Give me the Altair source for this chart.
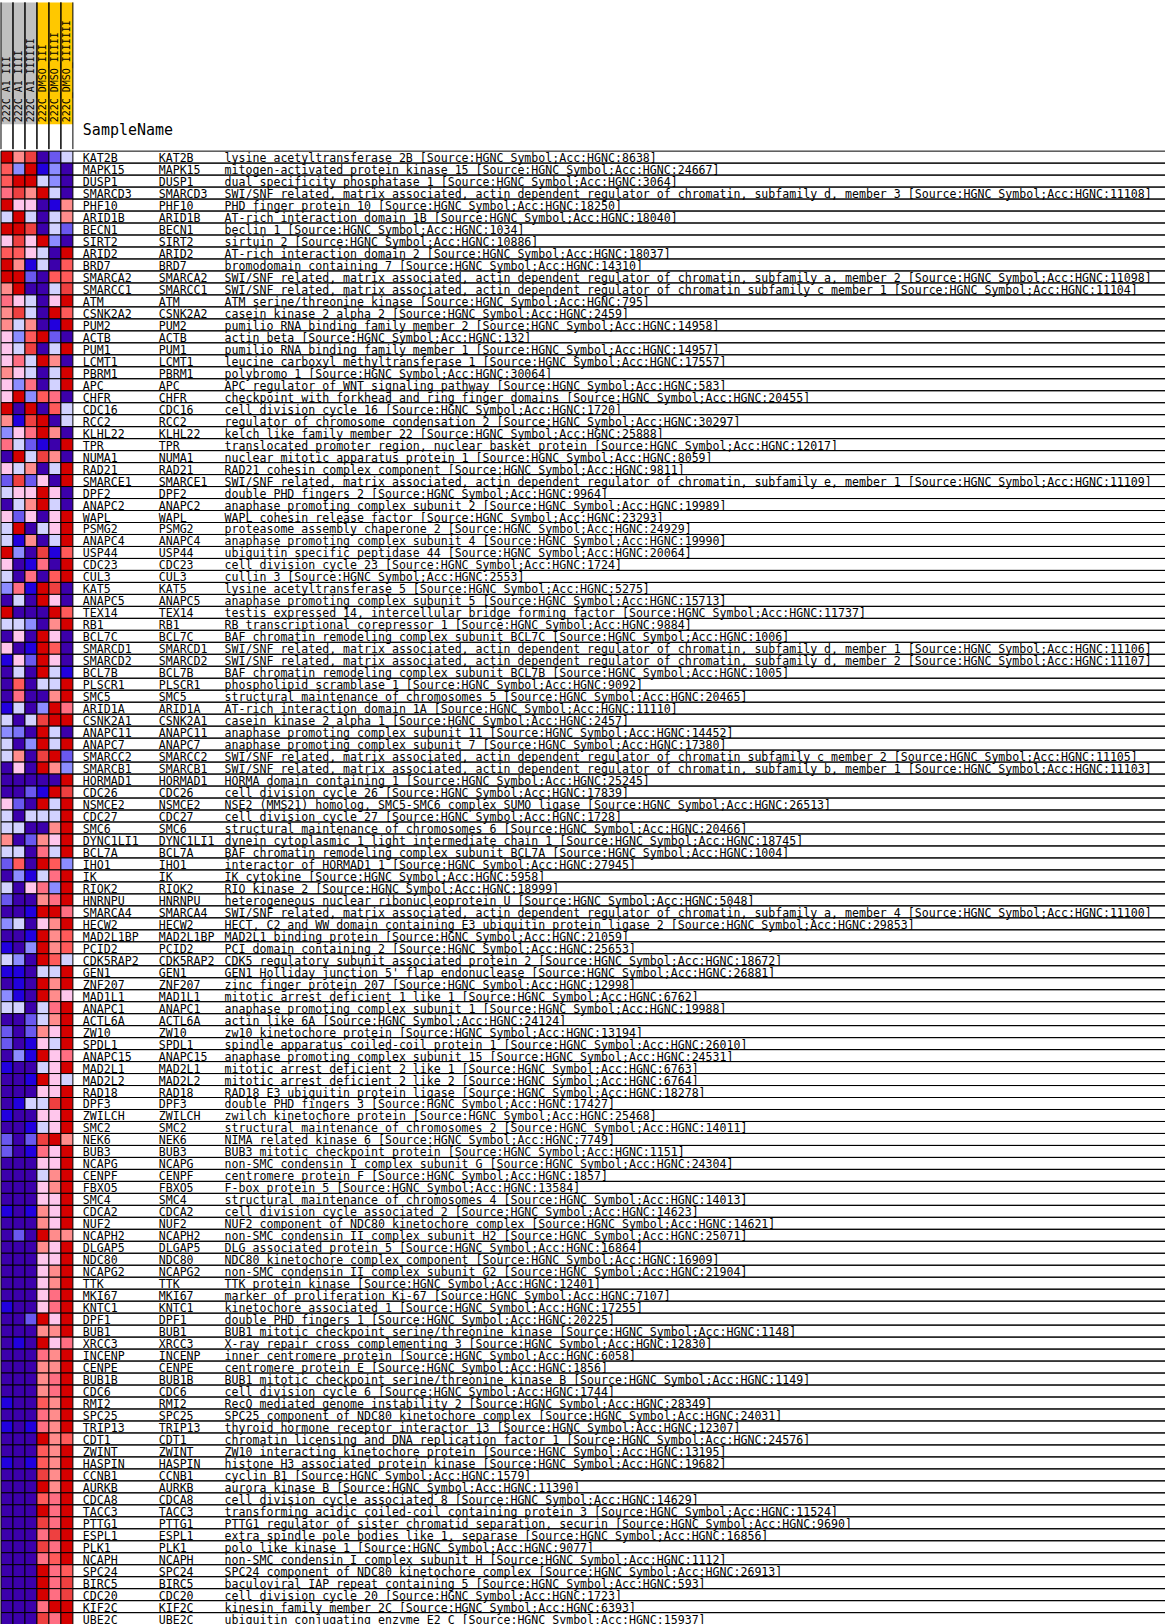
import altair as alt
import pandas as pd

samples = ["222C_A1_III", "222C_A1_IIII", "222C_A1_IIIIII",
           "222C_DMSO_III", "222C_DMSO_IIIII", "222C_DMSO_IIIIIII"]
sample_groups = ["A1", "A1", "A1", "DMSO", "DMSO", "DMSO"]

genes = [
    "KAT2B", "MAPK15", "DUSP1", "SMARCD3", "PHF10", "ARID1B", "BECN1", "SIRT2", "ARID2", "BRD7",
    "SMARCA2", "SMARCC1", "ATM", "CSNK2A2", "PUM2", "ACTB", "PUM1", "LCMT1", "PBRM1", "APC",
    "CHFR", "CDC16", "RCC2", "KLHL22", "TPR", "NUMA1", "RAD21", "SMARCE1", "DPF2", "ANAPC2",
    "WAPL", "PSMG2", "ANAPC4", "USP44", "CDC23", "CUL3", "KAT5", "ANAPC5", "TEX14", "RB1",
    "BCL7C", "SMARCD1", "SMARCD2", "BCL7B", "PLSCR1", "SMC5", "ARID1A", "CSNK2A1", "ANAPC11", "ANAPC7",
    "SMARCC2", "SMARCB1", "HORMAD1", "CDC26", "NSMCE2", "CDC27", "SMC6", "DYNC1LI1", "BCL7A", "IHO1",
    "IK", "RIOK2", "HNRNPU", "SMARCA4", "HECW2", "MAD2L1BP", "PCID2", "CDK5RAP2", "GEN1", "ZNF207",
    "MAD1L1", "ANAPC1", "ACTL6A", "ZW10", "SPDL1", "ANAPC15", "MAD2L1", "MAD2L2", "RAD18", "DPF3",
    "ZWILCH", "SMC2", "NEK6", "BUB3", "NCAPG", "CENPF", "FBXO5", "SMC4", "CDCA2", "NUF2",
    "NCAPH2", "DLGAP5", "NDC80", "NCAPG2", "TTK", "MKI67", "KNTC1", "DPF1", "BUB1", "XRCC3",
    "INCENP", "CENPE", "BUB1B", "CDC6", "RMI2", "SPC25", "TRIP13", "CDT1", "ZWINT", "HASPIN",
    "CCNB1", "AURKB", "CDCA8", "TACC3", "PTTG1", "ESPL1", "PLK1", "NCAPH", "SPC24", "BIRC5",
    "CDC20", "KIF2C", "UBE2C",
]

SRC = "[Source:HGNC Symbol;Acc:HGNC:"
descriptions = [
    "lysine acetyltransferase 2B " + SRC + "8638]",
    "mitogen-activated protein kinase 15 " + SRC + "24667]",
    "dual specificity phosphatase 1 " + SRC + "3064]",
    "SWI/SNF related, matrix associated, actin dependent regulator of chromatin, subfamily d, member 3 " + SRC + "11108]",
    "PHD finger protein 10 " + SRC + "18250]",
    "AT-rich interaction domain 1B " + SRC + "18040]",
    "beclin 1 " + SRC + "1034]",
    "sirtuin 2 " + SRC + "10886]",
    "AT-rich interaction domain 2 " + SRC + "18037]",
    "bromodomain containing 7 " + SRC + "14310]",
    "SWI/SNF related, matrix associated, actin dependent regulator of chromatin, subfamily a, member 2 " + SRC + "11098]",
    "SWI/SNF related, matrix associated, actin dependent regulator of chromatin subfamily c member 1 " + SRC + "11104]",
    "ATM serine/threonine kinase " + SRC + "795]",
    "casein kinase 2 alpha 2 " + SRC + "2459]",
    "pumilio RNA binding family member 2 " + SRC + "14958]",
    "actin beta " + SRC + "132]",
    "pumilio RNA binding family member 1 " + SRC + "14957]",
    "leucine carboxyl methyltransferase 1 " + SRC + "17557]",
    "polybromo 1 " + SRC + "30064]",
    "APC regulator of WNT signaling pathway " + SRC + "583]",
    "checkpoint with forkhead and ring finger domains " + SRC + "20455]",
    "cell division cycle 16 " + SRC + "1720]",
    "regulator of chromosome condensation 2 " + SRC + "30297]",
    "kelch like family member 22 " + SRC + "25888]",
    "translocated promoter region, nuclear basket protein " + SRC + "12017]",
    "nuclear mitotic apparatus protein 1 " + SRC + "8059]",
    "RAD21 cohesin complex component " + SRC + "9811]",
    "SWI/SNF related, matrix associated, actin dependent regulator of chromatin, subfamily e, member 1 " + SRC + "11109]",
    "double PHD fingers 2 " + SRC + "9964]",
    "anaphase promoting complex subunit 2 " + SRC + "19989]",
    "WAPL cohesin release factor " + SRC + "23293]",
    "proteasome assembly chaperone 2 " + SRC + "24929]",
    "anaphase promoting complex subunit 4 " + SRC + "19990]",
    "ubiquitin specific peptidase 44 " + SRC + "20064]",
    "cell division cycle 23 " + SRC + "1724]",
    "cullin 3 " + SRC + "2553]",
    "lysine acetyltransferase 5 " + SRC + "5275]",
    "anaphase promoting complex subunit 5 " + SRC + "15713]",
    "testis expressed 14, intercellular bridge forming factor " + SRC + "11737]",
    "RB transcriptional corepressor 1 " + SRC + "9884]",
    "BAF chromatin remodeling complex subunit BCL7C " + SRC + "1006]",
    "SWI/SNF related, matrix associated, actin dependent regulator of chromatin, subfamily d, member 1 " + SRC + "11106]",
    "SWI/SNF related, matrix associated, actin dependent regulator of chromatin, subfamily d, member 2 " + SRC + "11107]",
    "BAF chromatin remodeling complex subunit BCL7B " + SRC + "1005]",
    "phospholipid scramblase 1 " + SRC + "9092]",
    "structural maintenance of chromosomes 5 " + SRC + "20465]",
    "AT-rich interaction domain 1A " + SRC + "11110]",
    "casein kinase 2 alpha 1 " + SRC + "2457]",
    "anaphase promoting complex subunit 11 " + SRC + "14452]",
    "anaphase promoting complex subunit 7 " + SRC + "17380]",
    "SWI/SNF related, matrix associated, actin dependent regulator of chromatin subfamily c member 2 " + SRC + "11105]",
    "SWI/SNF related, matrix associated, actin dependent regulator of chromatin, subfamily b, member 1 " + SRC + "11103]",
    "HORMA domain containing 1 " + SRC + "25245]",
    "cell division cycle 26 " + SRC + "17839]",
    "NSE2 (MMS21) homolog, SMC5-SMC6 complex SUMO ligase " + SRC + "26513]",
    "cell division cycle 27 " + SRC + "1728]",
    "structural maintenance of chromosomes 6 " + SRC + "20466]",
    "dynein cytoplasmic 1 light intermediate chain 1 " + SRC + "18745]",
    "BAF chromatin remodeling complex subunit BCL7A " + SRC + "1004]",
    "interactor of HORMAD1 1 " + SRC + "27945]",
    "IK cytokine " + SRC + "5958]",
    "RIO kinase 2 " + SRC + "18999]",
    "heterogeneous nuclear ribonucleoprotein U " + SRC + "5048]",
    "SWI/SNF related, matrix associated, actin dependent regulator of chromatin, subfamily a, member 4 " + SRC + "11100]",
    "HECT, C2 and WW domain containing E3 ubiquitin protein ligase 2 " + SRC + "29853]",
    "MAD2L1 binding protein " + SRC + "21059]",
    "PCI domain containing 2 " + SRC + "25653]",
    "CDK5 regulatory subunit associated protein 2 " + SRC + "18672]",
    "GEN1 Holliday junction 5' flap endonuclease " + SRC + "26881]",
    "zinc finger protein 207 " + SRC + "12998]",
    "mitotic arrest deficient 1 like 1 " + SRC + "6762]",
    "anaphase promoting complex subunit 1 " + SRC + "19988]",
    "actin like 6A " + SRC + "24124]",
    "zw10 kinetochore protein " + SRC + "13194]",
    "spindle apparatus coiled-coil protein 1 " + SRC + "26010]",
    "anaphase promoting complex subunit 15 " + SRC + "24531]",
    "mitotic arrest deficient 2 like 1 " + SRC + "6763]",
    "mitotic arrest deficient 2 like 2 " + SRC + "6764]",
    "RAD18 E3 ubiquitin protein ligase " + SRC + "18278]",
    "double PHD fingers 3 " + SRC + "17427]",
    "zwilch kinetochore protein " + SRC + "25468]",
    "structural maintenance of chromosomes 2 " + SRC + "14011]",
    "NIMA related kinase 6 " + SRC + "7749]",
    "BUB3 mitotic checkpoint protein " + SRC + "1151]",
    "non-SMC condensin I complex subunit G " + SRC + "24304]",
    "centromere protein F " + SRC + "1857]",
    "F-box protein 5 " + SRC + "13584]",
    "structural maintenance of chromosomes 4 " + SRC + "14013]",
    "cell division cycle associated 2 " + SRC + "14623]",
    "NUF2 component of NDC80 kinetochore complex " + SRC + "14621]",
    "non-SMC condensin II complex subunit H2 " + SRC + "25071]",
    "DLG associated protein 5 " + SRC + "16864]",
    "NDC80 kinetochore complex component " + SRC + "16909]",
    "non-SMC condensin II complex subunit G2 " + SRC + "21904]",
    "TTK protein kinase " + SRC + "12401]",
    "marker of proliferation Ki-67 " + SRC + "7107]",
    "kinetochore associated 1 " + SRC + "17255]",
    "double PHD fingers 1 " + SRC + "20225]",
    "BUB1 mitotic checkpoint serine/threonine kinase " + SRC + "1148]",
    "X-ray repair cross complementing 3 " + SRC + "12830]",
    "inner centromere protein " + SRC + "6058]",
    "centromere protein E " + SRC + "1856]",
    "BUB1 mitotic checkpoint serine/threonine kinase B " + SRC + "1149]",
    "cell division cycle 6 " + SRC + "1744]",
    "RecQ mediated genome instability 2 " + SRC + "28349]",
    "SPC25 component of NDC80 kinetochore complex " + SRC + "24031]",
    "thyroid hormone receptor interactor 13 " + SRC + "12307]",
    "chromatin licensing and DNA replication factor 1 " + SRC + "24576]",
    "ZW10 interacting kinetochore protein " + SRC + "13195]",
    "histone H3 associated protein kinase " + SRC + "19682]",
    "cyclin B1 " + SRC + "1579]",
    "aurora kinase B " + SRC + "11390]",
    "cell division cycle associated 8 " + SRC + "14629]",
    "transforming acidic coiled-coil containing protein 3 " + SRC + "11524]",
    "PTTG1 regulator of sister chromatid separation, securin " + SRC + "9690]",
    "extra spindle pole bodies like 1, separase " + SRC + "16856]",
    "polo like kinase 1 " + SRC + "9077]",
    "non-SMC condensin I complex subunit H " + SRC + "1112]",
    "SPC24 component of NDC80 kinetochore complex " + SRC + "26913]",
    "baculoviral IAP repeat containing 5 " + SRC + "593]",
    "cell division cycle 20 " + SRC + "1723]",
    "kinesin family member 2C " + SRC + "6393]",
    "ubiquitin conjugating enzyme E2 C " + SRC + "15937]",
]

# row-scaled expression levels (-5 = lowest, 5 = highest), one list per sample
a1_1 = [5, 3, 3, 2.5, 5, -1, 5, 1, 3, 5,
        5, 2, 2.5, 2, 2, 1, 1, 1, 2, 1,
        1, 5, 2, -2, 2.5, -5, 1, -3, -1, -5,
        1, -1, -1, 5, 1, -1, -2, -5, 5, -1,
        -5, 1, -4, -5, -5, -5, -4, -1, -2, -1,
        -1, -5, -5, -5, 1, -1, -1, 2, -1, -3,
        -5, -1, -3, -5, -2, -5, -4, -1, -4, -5,
        -2, -1, -5, -3, -3, -5, -4, -5, -5, -5,
        -4, -5, -3, -3, -5, -5, -5, -5, -4, -5,
        -5, -5, -5, -5, -5, -5, -4, -5, -5, -5,
        -5, -5, -5, -5, -4, -5, -4, -5, -5, -4,
        -5, -5, -5, -5, -5, -5, -5, -5, -5, -5,
        -5, -5, -5]
a1_2 = [2, -2, 5, 4, 1, 5, 5, 4, 3, 2,
        5, 5, 1, 4, -1, -2, -1, 2.5, 1, -2,
        5, -5, -4, 1, -1, 5, -1, 4, 1, -1,
        -3, 5, -4, -2, -5, -5, 2.5, -1, -5, -1,
        1, -5, 1, -1, 3, 2.5, -1, -5, -2.5, -5,
        2, 1, -5, -5, -3, -5, -1, -5, -1, 3,
        -2, -5, -5, -5, -1, -5, -5, -2, -4, -4,
        -4, -1, -5, -5, -5, -2, -5, -5, -5, -4,
        -5, -5, -5, -5, -5, -5, -5, -5, -5, -5,
        -3, -5, -5, -5, -5, -5, -5, -5, -5, -4,
        -5, -5, -5, -5, -5, -5, -5, -5, -5, -5,
        -5, -5, -5, -5, -5, -5, -5, -5, -5, -5,
        -5, -5, -5]
a1_3 = [4, 5, 5, 2, 1, -1, 4, 1, 1, -4,
        -3, -5, -1, -1, 2, 3, 4, -1, -1, 2.5,
        -2, 5, 4, 2.5, -3, -1, 2, -3, 1, 2,
        1, -5, 2, -5, -4, 2.5, -4, -5, -5, -2,
        -5, -4, -3, -5, -5, -5, -5, -1, -5, -2,
        -5, -5, -5, -3, -5, -1, -5, -3, -5, -5,
        -4, 1, -5, -4, -5, -4, -2, -5, -5, -5,
        -5, -5, -3, -3, -4, -4, -5, -4, -5, -1,
        -5, -4, -3, -4, -5, -5, -5, -5, -4, -5,
        -5, -5, -5, -5, -5, -5, -5, -3, -5, -5,
        -5, -5, -5, -5, -5, -5, -4, -5, -5, -4,
        -5, -5, -5, -5, -5, -5, -5, -5, -5, -5,
        -5, -5, -5]
dmso_1 = [-5, -4, -1, 5, -5, -5, -5, 5, -1, -1,
          -5, -5, -5, -5, -5, 5, -5, 5, -5, -5,
          3, -5, 5, 5, -4, 4, -5, 1, 5, 5,
          -5, -1, -5, 4, 2.5, -5, 5, 5, -5, -5,
          5, 5, 5, 5, -1, -5, -2, 4, 5, 5,
          4, 5, -5, -4, 5, -1, -5, 2, 2.5, 5,
          -1, 2.5, 2, 5, 1, 5, 5, 5, -1, 5,
          5, -1, -1, 2, 1, 5, -1, 5, 1, -1,
          1, -1, 4, 2.5, 1, -1, 1, 1, 2, 2,
          5, 2, 1, 1, 1, 1, 1, 5, 2, 5,
          2.5, 2, 2, 2, 3, 2.5, 2.5, 5, 3, 3,
          4, 5, 3, 5, 4, 2.5, 4, 2.5, 5, 5,
          5, 2.5, 4]
dmso_2 = [-3, -2, -2, -1, -4, -1, -1, -2, -5, -5,
          3, -1, 1, 5, -4, -3, -1, 2, -1, -1,
          2.5, 3, -5, 2, -5, 2, -1, -5, 1, -1,
          1, 1, -1, -4, -5, 3, 4, 1, 5, 2,
          1, 3, 1, -1, -1, 2, 5, 5, -1, -1,
          5, 2, -5, 5, -1, -1, 2, 1, -1, 3,
          2.5, -2, 2.5, 5, 2, 2, 2, 3, -1, 2,
          2, 2.5, 2, 1, -1, 1, 1, 1, 1, 4,
          1, 1, 5, 1, 1, 2, 2, 1, 1, 1,
          2, 1, 1, 2, 2, 2.5, 2.5, 1, 2, 1,
          2, 2, 2.5, 2.5, 2, 2, 2, 2, 2, 2,
          2, 2, 2.5, 2.5, 2.5, 4, 2.5, 3, 2.5, 2.5,
          2.5, 5, 2.5]
dmso_3 = [-1, -5, -5, -5, 2, 2, -3, -5, 5, 3,
          3, 4, 5, 3, 5, -5, 5, -5, 5, 5,
          -5, -1, -1, -5, 5, -5, 5, 5, -5, -5,
          5, 5, 5, 3, 5, 5, -5, -5, 3, 5,
          -5, -5, -5, -4, 5, 5, 2.5, 5, -5, 5,
          -3, -2, 5, 4, 5, 5, 5, 5, 5, -2,
          5, 5, 5, 2.5, 5, 3, 3, -1, 5, 5,
          1, 5, 5, 5, 5, 2.5, 5, -1, 5, 5,
          5, 5, 2, 5, 5, 5, 5, 5, 5, 5,
          2, 5, 5, 5, 5, 5, 5, 5, 5, 2.5,
          5, 5, 5, 5, 5, 5, 5, 3, 5, 5,
          5, 5, 5, 5, 5, 5, 5, 5, 3, 4,
          4, 5, 5]

level_domain = [-5, -4, -3, -2, -1, 1, 2, 2.5, 3, 4, 5]
level_colors = ["#3c00ab", "#2200dd", "#6a58ef", "#8c8cff", "#d2d2ff",
                "#ffc6ec", "#ff8c8c", "#ff6e82", "#ff5a5a", "#ee4040", "#d50000"]

series = [a1_1, a1_2, a1_3, dmso_1, dmso_2, dmso_3]
heat_df = pd.DataFrame(
    [{"sample": s, "gene": g, "value": v}
     for s, vals in zip(samples, series) for g, v in zip(genes, vals)]
)
table_df = pd.DataFrame({"gene": genes, "symbol": genes, "desc": descriptions})
header_df = pd.DataFrame({"sample": samples, "group": sample_groups})
label_df = pd.DataFrame({"label": ["SampleName"]})

ROW = 12
CELL = 12
HEAD_H = 147
body_h = ROW * len(genes)
left_w = CELL * len(samples)
right_w = 1166 - left_w
MONO = "DejaVu Sans Mono"

band = alt.Scale(type="band", paddingInner=0, paddingOuter=0)


def xs(bp=None):
    kw = dict(sort=samples, axis=None, scale=band)
    if bp is not None:
        kw["bandPosition"] = bp
    return alt.X("sample:N", **kw)


def yg(bp=None):
    kw = dict(sort=genes, axis=None, scale=band)
    if bp is not None:
        kw["bandPosition"] = bp
    return alt.Y("gene:N", **kw)


hbase = alt.Chart(header_df)
h_fill = hbase.mark_rect().encode(
    x=xs(), y=alt.value(0), y2=alt.value(122),
    fill=alt.Fill("group:N", scale=alt.Scale(domain=["A1", "DMSO"], range=["#c0c0c0", "#ffc800"]), legend=None),
)
h_l0 = hbase.mark_rule(color="black", strokeWidth=1).encode(x=xs(0))
h_l1 = hbase.mark_rule(color="black", strokeWidth=1).encode(x=xs(1))
h_text = hbase.mark_text(angle=270, align="left", baseline="middle", font=MONO, fontSize=10, color="black").encode(
    x=xs(), y=alt.value(120), text="sample:N"
)
header = alt.layer(h_fill, h_l0, h_l1, h_text).properties(width=left_w, height=HEAD_H)

sample_label = alt.Chart(label_df).mark_text(
    align="left", baseline="alphabetic", font=MONO, fontSize=15, color="black"
).encode(x=alt.value(10), y=alt.value(133), text="label:N").properties(width=right_w, height=HEAD_H)

heat = alt.Chart(heat_df).mark_rect(stroke="black", strokeWidth=1).encode(
    x=xs(), y=yg(),
    fill=alt.Fill("value:Q", scale=alt.Scale(domain=level_domain, range=level_colors), legend=None),
).properties(width=left_w, height=body_h)

tbase = alt.Chart(table_df)
r_top = tbase.mark_rule(color="black", strokeWidth=1).encode(y=yg(0))
r_bot = tbase.mark_rule(color="black", strokeWidth=1).encode(y=yg(1))
txt = dict(align="left", baseline="alphabetic", dy=-1, font=MONO, fontSize=11.6, color="black")
t_name = tbase.mark_text(**txt).encode(x=alt.value(10), y=yg(1), text="gene:N")
t_sym = tbase.mark_text(**txt).encode(x=alt.value(86), y=yg(1), text="symbol:N")
t_desc = tbase.mark_text(**txt).encode(x=alt.value(152), y=yg(1), text="desc:N")
table = alt.layer(r_top, r_bot, t_name, t_sym, t_desc).properties(width=right_w, height=body_h)

top = alt.hconcat(header, sample_label, spacing=0, bounds="flush").resolve_scale(fill="independent", x="independent", y="independent")
bottom = alt.hconcat(heat, table, spacing=0, bounds="flush").resolve_scale(fill="independent", x="independent", y="independent")

chart = (
    alt.vconcat(top, bottom, spacing=0)
    .resolve_scale(fill="independent", x="independent", y="independent")
    .properties(padding=0, background="white")
    .configure_view(stroke=None)
)

chart.save("out.html", embed_options={"renderer": "svg", "actions": False})
